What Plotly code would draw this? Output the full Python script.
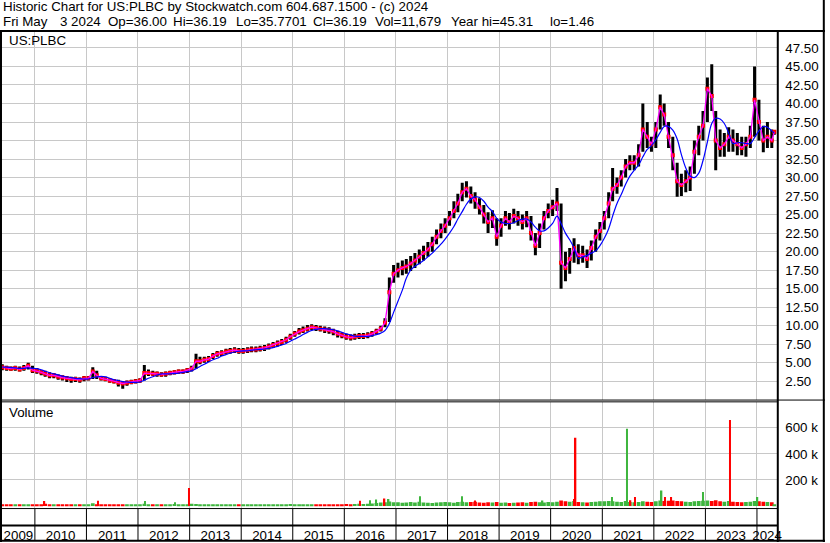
import pandas as pd
import plotly.graph_objects as go

# ---------------- data (monthly) ----------------
title_line1 = "Historic Chart for US:PLBC by Stockwatch.com 604.687.1500 - (c) 2024"
title_line2_items = ["Fri May", "3 2024", "Op=36.00", "Hi=36.19", "Lo=35.7701",
                     "Cl=36.19", "Vol=11,679", "Year hi=45.31", "lo=1.46"]
symbol_label = "US:PLBC"
volume_label = "Volume"

first_month = "2009-05-01"
last_month = "2024-05-01"
last_date = "2024-05-03"

close = [
    4.4, 4.3, 4.2, 4.3, 4.1, 4.3, 4.6, 4.0,                                # 2009 May-Dec
    3.9, 3.7, 3.5, 3.3, 3.3, 3.1, 3.0, 2.9, 2.8, 2.8, 2.7, 2.9,            # 2010
    2.9, 3.8, 3.3, 2.9, 2.8, 2.6, 2.5, 2.3, 2.2, 2.3, 2.4, 2.5,            # 2011
    2.6, 3.6, 3.6, 3.5, 3.5, 3.4, 3.5, 3.6, 3.7, 3.8, 3.8, 4.0,            # 2012
    4.2, 5.2, 5.2, 5.4, 5.5, 5.9, 6.2, 6.3, 6.5, 6.6, 6.7, 6.6,            # 2013
    6.6, 6.7, 6.8, 6.8, 6.9, 7.0, 7.2, 7.4, 7.6, 7.8, 8.1, 8.5,            # 2014
    8.9, 9.2, 9.4, 9.6, 9.8, 9.7, 9.6, 9.5, 9.4, 9.2, 8.9, 8.7,            # 2015
    8.5, 8.4, 8.5, 8.6, 8.6, 8.7, 8.9, 9.2, 9.6, 10.4, 14.5, 17.0,         # 2016
    17.5, 17.8, 18.0, 18.4, 18.8, 19.3, 19.8, 20.3, 21.0, 22.0, 22.8, 23.5,  # 2017
    24.5, 25.5, 26.5, 28.0, 28.5, 27.5, 27.0, 26.0, 25.0, 24.0, 24.5, 22.0,  # 2018
    23.5, 24.5, 24.0, 24.8, 24.5, 24.0, 24.5, 22.5, 20.8, 22.5, 24.5, 25.5,  # 2019
    26.0, 26.5, 18.5, 17.8, 19.0, 20.5, 19.5, 19.5, 19.0, 20.5, 22.0, 22.8,  # 2020
    24.5, 26.5, 28.5, 29.0, 30.0, 31.5, 32.0, 32.0, 33.0, 36.5, 35.5, 34.5,  # 2021
    36.5, 39.5, 38.5, 35.5, 33.0, 29.5, 29.0, 29.5, 30.0, 33.5, 35.5, 37.0,  # 2022
    42.0, 41.0, 35.0, 34.0, 34.5, 35.5, 35.0, 34.5, 34.0, 34.5, 35.5, 40.5,  # 2023
    37.5, 35.0, 35.5, 35.0, 36.19,                                          # 2024 Jan-May
]
high = [
    4.8, 4.6, 4.5, 4.6, 4.5, 4.7, 5.0, 4.6,
    4.3, 4.0, 3.9, 3.7, 3.6, 3.4, 3.3, 3.2, 3.1, 3.1, 3.0, 3.2,
    3.2, 4.4, 3.9, 3.2, 3.1, 2.9, 2.8, 2.7, 2.5, 2.6, 2.7, 2.8,
    2.9, 4.7, 4.1, 3.9, 3.8, 3.7, 3.8, 3.9, 4.0, 4.1, 4.1, 4.3,
    4.6, 6.2, 5.8, 5.8, 5.9, 6.3, 6.6, 6.7, 6.9, 7.0, 7.1, 7.0,
    7.0, 7.1, 7.2, 7.2, 7.3, 7.4, 7.6, 7.8, 8.0, 8.2, 8.5, 8.9,
    9.3, 9.7, 9.9, 10.1, 10.2, 10.1, 10.0, 9.9, 9.8, 9.6, 9.3, 9.1,
    8.9, 8.8, 8.9, 9.0, 9.0, 9.1, 9.3, 9.6, 10.0, 11.0, 16.5, 18.2,
    18.5, 18.8, 19.0, 19.4, 19.8, 20.3, 20.8, 21.3, 22.0, 23.0, 23.8, 24.5,
    25.5, 26.8, 27.8, 29.3, 29.5, 28.8, 28.0, 27.2, 26.3, 25.3, 25.6, 24.5,
    24.5, 25.5, 25.2, 25.8, 25.5, 25.0, 25.5, 24.8, 22.5, 23.8, 25.5, 26.5,
    27.0, 28.6, 26.5, 20.0, 20.5, 21.8, 21.0, 20.8, 20.3, 21.5, 23.0, 24.0,
    25.5, 28.0, 31.3, 30.0, 31.0, 32.5, 33.0, 33.0, 34.5, 40.0, 37.5, 35.5,
    37.5, 41.2, 40.0, 37.5, 35.5, 32.0, 30.5, 31.0, 31.5, 35.0, 37.0, 39.0,
    43.5, 45.3, 39.0, 36.5, 36.0, 36.8, 36.5, 36.0, 35.5, 35.5, 37.0, 45.0,
    40.5, 37.0, 37.5, 36.5, 36.19,
]
low = [
    4.0, 3.9, 3.9, 3.9, 3.8, 3.9, 4.1, 3.6,
    3.5, 3.3, 3.1, 2.9, 2.9, 2.7, 2.6, 2.4, 2.3, 2.4, 2.3, 2.5,
    2.6, 2.8, 2.8, 2.6, 2.5, 2.3, 2.2, 1.8, 1.5, 1.9, 2.1, 2.2,
    2.3, 2.6, 3.2, 3.2, 3.1, 3.1, 3.1, 3.3, 3.4, 3.5, 3.5, 3.6,
    3.8, 4.2, 4.8, 5.0, 5.1, 5.5, 5.8, 5.9, 6.1, 6.2, 6.3, 6.2,
    6.2, 6.3, 6.4, 6.4, 6.5, 6.6, 6.8, 7.0, 7.2, 7.4, 7.7, 8.1,
    8.5, 8.8, 9.0, 9.2, 9.4, 9.3, 9.2, 9.0, 8.9, 8.7, 8.4, 8.3,
    8.1, 8.0, 8.1, 8.2, 8.2, 8.3, 8.5, 8.8, 9.2, 9.8, 10.5, 15.8,
    16.5, 16.8, 17.0, 17.4, 17.8, 18.3, 18.8, 19.3, 20.0, 21.0, 21.8, 22.5,
    23.5, 24.5, 25.3, 26.8, 27.3, 26.5, 25.8, 25.0, 23.8, 22.5, 23.2, 20.8,
    22.0, 23.5, 23.0, 23.8, 23.5, 23.0, 23.3, 21.5, 19.5, 20.5, 23.0, 24.5,
    24.8, 25.5, 15.0, 16.0, 17.0, 18.5, 18.3, 18.5, 17.8, 18.8, 20.0, 21.5,
    23.0, 24.5, 26.8, 27.8, 28.8, 30.0, 31.0, 31.0, 31.5, 33.5, 34.0, 33.5,
    34.0, 36.5, 37.0, 34.0, 31.0, 27.4, 27.5, 28.0, 28.2, 30.5, 33.0, 35.0,
    37.5, 39.0, 31.0, 32.8, 32.8, 33.5, 33.5, 33.0, 33.0, 32.8, 34.0, 35.5,
    35.0, 33.4, 34.0, 34.0, 35.77,
]
long_ma = [
    4.4, 4.4, 4.35, 4.3, 4.25, 4.25, 4.3, 4.25,
    4.2, 4.05, 3.85, 3.65, 3.5, 3.35, 3.2, 3.1, 3.0, 2.9, 2.85, 2.8,
    2.8, 3.0, 3.1, 3.15, 3.1, 2.9, 2.7, 2.6, 2.45, 2.4, 2.35, 2.35,
    2.4, 2.65, 2.9, 3.1, 3.35, 3.5, 3.5, 3.5, 3.55, 3.6, 3.7, 3.8,
    3.9, 4.2, 4.5, 4.8, 5.1, 5.4, 5.6, 5.9, 6.1, 6.3, 6.45, 6.55,
    6.6, 6.6, 6.7, 6.75, 6.8, 6.85, 6.95, 7.05, 7.2, 7.4, 7.6, 7.9,
    8.2, 8.5, 8.8, 9.1, 9.35, 9.5, 9.6, 9.6, 9.55, 9.45, 9.3, 9.1,
    8.9, 8.75, 8.6, 8.55, 8.55, 8.55, 8.65, 8.8, 9.0, 9.35, 10.3, 11.8,
    13.3, 14.8, 16.4, 17.5, 18.0, 18.4, 18.8, 19.3, 19.8, 20.4, 21.0, 21.7,
    22.5, 23.4, 24.4, 25.4, 26.4, 27.1, 27.4, 27.3, 26.8, 26.0, 25.4, 24.5,
    24.0, 23.8, 23.8, 23.9, 24.2, 24.4, 24.4, 24.0, 23.3, 22.8, 22.8, 23.2,
    23.8, 24.8, 23.8, 22.5, 21.6, 20.5, 19.1, 19.3, 19.5, 19.8, 20.1, 20.8,
    21.8, 23.1, 24.8, 26.5, 27.7, 29.1, 30.2, 31.0, 31.7, 32.8, 33.8, 34.3,
    35.1, 36.1, 36.9, 36.9, 36.4, 35.2, 33.1, 31.3, 30.2, 30.0, 30.6, 32.3,
    34.8, 37.3, 38.0, 37.9, 37.3, 36.0, 34.6, 34.7, 34.7, 34.6, 34.6, 35.4,
    36.3, 36.9, 36.8, 36.3, 36.0,
]
# typical daily volume in each month (thousands of shares)
volume_k = [
    12, 10, 10, 12, 10, 12, 14, 10,
    12, 14, 18, 12, 10, 10, 9, 10, 8, 10, 9, 10,
    12, 22, 14, 10, 10, 9, 10, 12, 10, 8, 9, 10,
    10, 18, 14, 12, 10, 10, 12, 14, 16, 14, 12, 14,
    18, 16, 14, 12, 12, 14, 12, 10, 12, 12, 10, 12,
    12, 14, 12, 10, 12, 14, 12, 10, 12, 12, 14, 16,
    14, 12, 12, 14, 12, 10, 12, 14, 12, 10, 12, 14,
    16, 14, 16, 18, 16, 18, 20, 24, 28, 30, 35, 30,
    30, 26, 28, 32, 28, 34, 28, 26, 24, 28, 30, 32,
    30, 26, 32, 34, 30, 32, 34, 28, 26, 30, 28, 32,
    26, 28, 24, 26, 28, 30, 26, 32, 34, 30, 28, 32,
    30, 34, 42, 36, 34, 38, 32, 30, 28, 32, 34, 36,
    36, 38, 36, 34, 32, 38, 32, 30, 32, 36, 34, 32,
    36, 42, 38, 40, 42, 38, 36, 34, 32, 36, 38, 40,
    42, 38, 44, 36, 34, 38, 34, 32, 30, 32, 34, 38,
    36, 34, 32, 30, 14,
]
# single heavy-volume days
spike_dates = ["2010-03-10", "2011-03-24", "2012-02-20", "2012-09-20", "2012-12-28",
               "2016-04-20", "2016-07-01", "2016-08-15", "2016-10-12", "2016-11-10",
               "2017-06-20", "2018-04-15", "2018-07-15", "2019-11-05", "2020-06-18",
               "2020-06-26", "2021-03-10", "2021-06-25", "2021-07-20", "2021-08-20",
               "2022-02-25", "2022-03-20", "2022-05-05", "2022-12-16", "2023-06-23",
               "2024-01-05"]
spike_volume_k = [38, 40, 38, 30, 138,
                  40, 45, 50, 58, 55,
                  75, 75, 43, 43, 55,
                  523, 70, 592, 45, 70,
                  120, 70, 70, 108, 660,
                  70]
spike_up = [False, False, True, True, False,
            False, True, True, False, True,
            True, True, False, True, False,
            False, True, True, False, False,
            True, False, False, True, False,
            True]

years = list(range(2009, 2025))
price_ticks = [2.5 * i for i in range(1, 20)]
volume_ticks = [200000, 400000, 600000]
volume_tick_labels = ["200 k", "400 k", "600 k"]

x_start, x_end = "2009-05-13", "2024-05-24"

# ---------------- build ----------------
W, H = 830, 543
FS = 13.33
def px(x): return x / W
def py(y): return 1 - y / H

months = pd.date_range(first_month, last_month, freq="MS")
dates = [m + pd.Timedelta(days=14) for m in months]
dates[-1] = pd.Timestamp(last_date)

RED = "#ff0000"
GREEN = "#3db53d"
GRID = "#c8c8c8"

bx, by = [], []
for d, lo, hi in zip(dates, low, high):
    bx += [d, d, None]
    by += [lo, hi, None]

vol_colors = [GREEN if (i > 0 and close[i] >= close[i - 1]) else RED for i in range(len(close))]

fig = go.Figure()
fig.add_trace(go.Scatter(x=bx, y=by, mode="lines", line=dict(color="black", width=3),
                         xaxis="x", yaxis="y", hoverinfo="skip"))
fig.add_trace(go.Scatter(x=dates, y=close, mode="markers",
                         marker=dict(color=RED, size=4, symbol="square"), xaxis="x", yaxis="y"))
fig.add_trace(go.Scatter(x=dates, y=close, mode="lines", line=dict(color="#ff00ff", width=1.3),
                         xaxis="x", yaxis="y"))
fig.add_trace(go.Scatter(x=dates, y=long_ma, mode="lines", line=dict(color="#0000ff", width=1.2, shape="spline"),
                         xaxis="x", yaxis="y"))

fig.add_trace(go.Bar(x=dates, y=[v * 1000 for v in volume_k], marker=dict(color=vol_colors, line=dict(width=0)),
                     width=26 * 86400000, xaxis="x2", yaxis="y2"))
fig.add_trace(go.Bar(x=pd.to_datetime(spike_dates), y=[v * 1000 for v in spike_volume_k],
                     marker=dict(color=[GREEN if u else RED for u in spike_up], line=dict(width=0)),
                     width=10 * 86400000, xaxis="x2", yaxis="y2"))

# year label axis (ticks at middle of each visible year segment)
rs, re_ = pd.Timestamp(x_start), pd.Timestamp(x_end)
year_centers = []
for yr in years:
    a = max(pd.Timestamp(f"{yr}-01-01"), rs)
    b = min(pd.Timestamp(f"{yr + 1}-01-01"), re_)
    year_centers.append(a + (b - a) / 2)
fig.add_trace(go.Scatter(x=[rs], y=[0.5], mode="markers", marker=dict(opacity=0),
                         xaxis="x3", yaxis="y3", hoverinfo="skip"))

xdom = [px(2), px(782)]
common_x = dict(type="date", range=[x_start, x_end], domain=xdom, showgrid=True, gridcolor=GRID,
                gridwidth=1, dtick="M12", tick0="2009-01-01", showticklabels=False,
                zeroline=False, showline=False, ticks="")
fig.update_layout(
    width=W, height=H, margin=dict(l=0, r=0, t=0, b=0),
    paper_bgcolor="white", plot_bgcolor="white", showlegend=False, barmode="overlay",
    font=dict(family="Arial, 'Liberation Sans', sans-serif", size=FS, color="black"),
    xaxis=dict(anchor="y", **common_x),
    xaxis2=dict(anchor="y2", matches="x", **common_x),
    xaxis3=dict(anchor="y3", type="date", range=[x_start, x_end], domain=xdom, showgrid=False,
                zeroline=False, showline=False, ticks="", tickmode="array",
                tickvals=year_centers, ticktext=[str(y) for y in years],
                tickfont=dict(size=FS, color="black")),
    yaxis=dict(anchor="x", domain=[py(400.5), py(32)], range=[0, 49.66], side="right",
               tickmode="array", tickvals=price_ticks, ticktext=[f"{v:.2f}" for v in price_ticks],
               showgrid=True, gridcolor=GRID, zeroline=False, showline=False, ticks="",
               ticklabelstandoff=7, tickfont=dict(size=FS, color="black")),
    yaxis2=dict(anchor="x2", domain=[py(509), py(403)], range=[-15300, 795000], side="right",
                tickmode="array", tickvals=volume_ticks, ticktext=volume_tick_labels,
                showgrid=True, gridcolor=GRID, zeroline=False, showline=False, ticks="",
                ticklabelstandoff=7, tickfont=dict(size=FS, color="black")),
    yaxis3=dict(anchor="x3", domain=[py(526.5), py(509)], range=[0, 1], visible=False),
)

shapes = []
def hline(y, x0, x1, w=1):
    shapes.append(dict(type="line", xref="paper", yref="paper", x0=px(x0), x1=px(x1),
                       y0=py(y), y1=py(y), line=dict(color="black", width=w)))
def vline(x, y0, y1, w=1):
    shapes.append(dict(type="line", xref="paper", yref="paper", x0=px(x), x1=px(x),
                       y0=py(y0), y1=py(y1), line=dict(color="black", width=w)))

hline(31, 0, 830, 2)          # under header
hline(400.8, 0, 830, 1)       # double line between panels
hline(402.6, 0, 782, 1)
hline(509.5, 0, 782, 1)       # bottom of volume panel
hline(526.5, 0, 782, 2)
hline(541.8, 0, 830, 2)       # bottom edge
vline(1, 31, 543, 2)          # left edge
vline(782.5, 31, 543, 2)      # axis separator
vline(828.8, 0, 543, 2)       # right edge
for yr in years[1:]:
    shapes.append(dict(type="line", xref="x", yref="paper", x0=f"{yr}-01-01", x1=f"{yr}-01-01",
                       y0=py(542), y1=py(509.5), line=dict(color="black", width=1)))
fig.update_layout(shapes=shapes)

def label(text, x, y):
    return dict(text=text, xref="paper", yref="paper", x=px(x), y=py(y), xanchor="left",
                yanchor="middle", showarrow=False, font=dict(size=FS, color="black"))

# left edges (px) of the header's second-line items
line2_x = [1, 58, 107, 172.5, 235, 312.5, 375, 451.5, 551.5]
annotations = [label(title_line1, 1, 7)]
annotations += [label(t, x, 22) for t, x in zip(title_line2_items, line2_x)]
annotations += [label(symbol_label, 7, 41), label(volume_label, 7, 413)]
fig.update_layout(annotations=annotations)

fig.write_html("out.html", config={"displayModeBar": False},
               post_script="document.body.style.margin='0';")
